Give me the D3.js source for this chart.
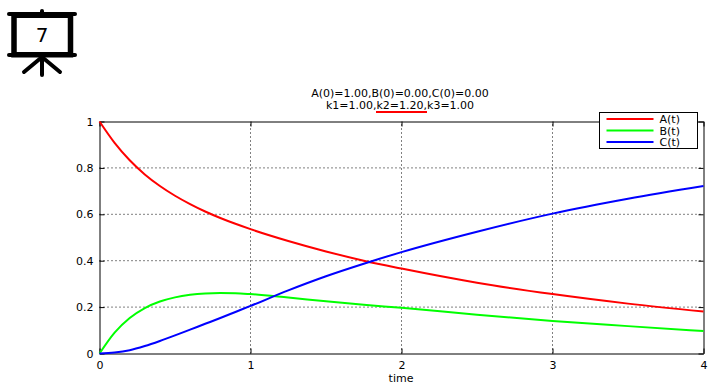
<!DOCTYPE html>
<html>
<head>
<meta charset="utf-8">
<script src="https://cdn.jsdelivr.net/npm/d3@7"></script>
<style>
	html, body { margin: 0; padding: 0; background: #fff; overflow: hidden; }
	svg { display: block; }
	text { font-family: "DejaVu Sans", sans-serif; font-size: 11px; fill: #000; }
</style>
</head>
<body>
<div id="chart"></div>
<script>
// values
const times = [0, 0.1, 0.2, 0.3, 0.4, 0.5, 0.6, 0.7, 0.8, 0.9, 1, 1.25, 1.5, 1.75, 2, 2.5, 3, 3.5, 4];
const seriesA = [1, 0.908, 0.833, 0.772, 0.722, 0.68, 0.644, 0.612, 0.584, 0.559, 0.536, 0.485, 0.44, 0.4, 0.366, 0.305, 0.256, 0.215, 0.181];
const seriesB = [0, 0.09, 0.153, 0.196, 0.224, 0.242, 0.253, 0.259, 0.261, 0.26, 0.256, 0.241, 0.225, 0.21, 0.197, 0.167, 0.14, 0.118, 0.097];
const seriesC = [0, 0.004, 0.014, 0.032, 0.054, 0.078, 0.103, 0.128, 0.153, 0.179, 0.205, 0.272, 0.333, 0.387, 0.437, 0.525, 0.603, 0.667, 0.722];
const seriesNames = ["A(t)", "B(t)", "C(t)"];
const seriesColors = ["#ff0000", "#00ff00", "#0000ff"];
const xTicks = [0, 1, 2, 3, 4];
const yTicks = [0, 0.2, 0.4, 0.6, 0.8, 1];
const titleLines = ["A(0)=1.00,B(0)=0.00,C(0)=0.00", "k1=1.00,k2=1.20,k3=1.00"];

const width = 728, height = 388;
const svg = d3.select("#chart").append("svg").attr("width", width).attr("height", height);

const x = d3.scaleLinear().domain([0, 4]).range([99.5, 703.5]);
const y = d3.scaleLinear().domain([0, 1]).range([353.5, 121.5]);

// grid
svg.append("g").selectAll("line").data(xTicks.slice(1, -1)).enter().append("line")
	.attr("x1", d => x(d)).attr("x2", d => x(d))
	.attr("y1", y(0)).attr("y2", y(1))
	.attr("stroke", "#000").attr("stroke-dasharray", "1,3");
svg.append("g").selectAll("line").data(yTicks.slice(1, -1)).enter().append("line")
	.attr("x1", x(0)).attr("x2", x(4))
	.attr("y1", d => y(d)).attr("y2", d => y(d))
	.attr("stroke", "#000").attr("stroke-dasharray", "1,3");

// axes, ticks point inward on all four sides
const fmt = d => String(d);
function styleAxis(g) {
	g.select(".domain").attr("stroke", "#000");
	g.selectAll(".tick line").attr("stroke", "#000");
	g.selectAll(".tick text").style("font-family", '"DejaVu Sans", sans-serif').style("font-size", "11px").attr("fill", "#000");
}
svg.append("g").attr("transform", `translate(0,${y(0)})`)
	.call(d3.axisBottom(x).tickValues(xTicks).tickFormat(fmt).tickSize(-5).tickSizeOuter(0).tickPadding(8)).call(styleAxis);
svg.append("g").attr("transform", `translate(0,${y(1)})`)
	.call(d3.axisTop(x).tickValues(xTicks).tickFormat("").tickSize(-5).tickSizeOuter(0)).call(styleAxis);
svg.append("g").attr("transform", `translate(${x(0)},0)`)
	.call(d3.axisLeft(y).tickValues(yTicks).tickFormat(fmt).tickSize(-5).tickSizeOuter(0).tickPadding(6)).call(styleAxis);
svg.append("g").attr("transform", `translate(${x(4)},0)`)
	.call(d3.axisRight(y).tickValues(yTicks).tickFormat("").tickSize(-5).tickSizeOuter(0)).call(styleAxis);

// curves
const line = d3.line().x((d, i) => x(times[i])).y(d => y(d)).curve(d3.curveMonotoneX);
[seriesA, seriesB, seriesC].forEach((s, i) => {
	svg.append("path").attr("d", line(s))
		.attr("fill", "none").attr("stroke", seriesColors[i]).attr("stroke-width", 2);
});

// title
svg.selectAll("text.title").data(titleLines).enter().append("text")
	.attr("class", "title")
	.attr("x", 400).attr("y", (d, i) => 97 + i * 12)
	.attr("text-anchor", "middle")
	.text(d => d);
svg.append("line").attr("x1", 376).attr("x2", 427).attr("y1", 112).attr("y2", 112)
	.attr("stroke", "#ff0000").attr("stroke-width", 2);

// x label
svg.append("text").attr("x", 401).attr("y", 382).attr("text-anchor", "middle").text("time");

// legend
const legend = svg.append("g").attr("transform", "translate(599.5,112.5)");
legend.append("rect").attr("width", 98).attr("height", 36).attr("fill", "#fff").attr("stroke", "#000");
seriesNames.forEach((name, i) => {
	legend.append("line").attr("x1", 7).attr("x2", 54).attr("y1", 6.5 + i * 11.5).attr("y2", 6.5 + i * 11.5)
		.attr("stroke", seriesColors[i]).attr("stroke-width", 2);
	legend.append("text").attr("x", 60).attr("y", 10.5 + i * 11.5).text(name);
});

// projector screen icon
const icon = svg.append("g").attr("stroke", "#000").attr("stroke-linecap", "round").attr("fill", "none");
icon.append("rect").attr("x", 14).attr("y", 15.25).attr("width", 56.5).attr("height", 39.5).attr("stroke-width", 5.5);
icon.append("line").attr("x1", 9).attr("x2", 75).attr("y1", 14).attr("y2", 14).attr("stroke-width", 4);
icon.append("line").attr("x1", 9).attr("x2", 75).attr("y1", 55).attr("y2", 55).attr("stroke-width", 4);
icon.append("line").attr("x1", 42).attr("x2", 42).attr("y1", 11).attr("y2", 14).attr("stroke-width", 4);
icon.append("line").attr("x1", 42).attr("x2", 42).attr("y1", 55).attr("y2", 75).attr("stroke-width", 4);
icon.append("line").attr("x1", 42).attr("x2", 24).attr("y1", 57).attr("y2", 72).attr("stroke-width", 4);
icon.append("line").attr("x1", 42).attr("x2", 60).attr("y1", 57).attr("y2", 72).attr("stroke-width", 4);
svg.append("text").attr("x", 42).attr("y", 42).attr("text-anchor", "middle")
	.style("font-size", "20px").text("7");
</script>
</body>
</html>
